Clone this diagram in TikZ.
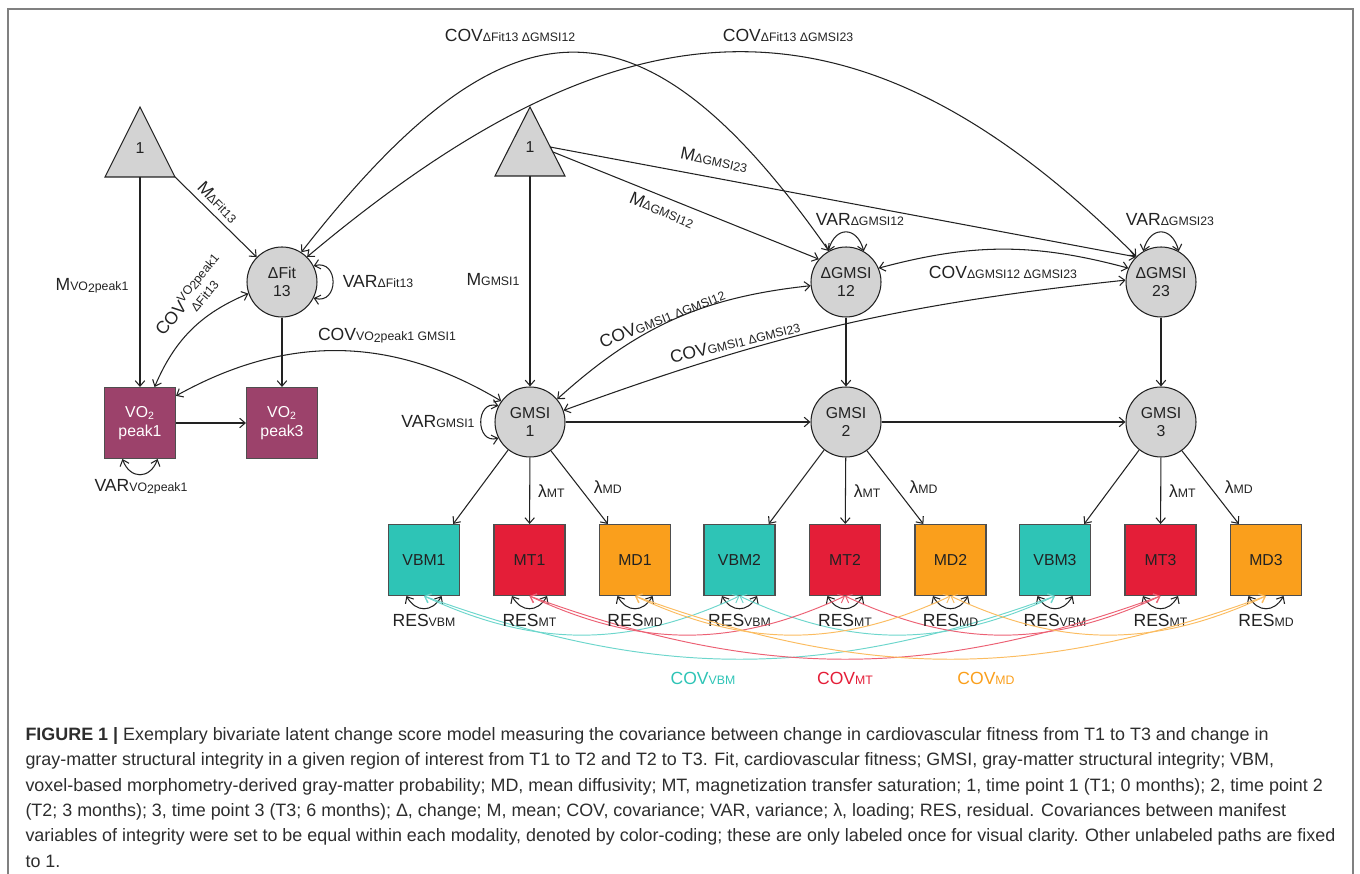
\documentclass[tikz,border=0pt]{standalone}
\usepackage{fontspec}
\setmainfont{Liberation Sans}
\usetikzlibrary{arrows.meta}

\definecolor{latgray}{RGB}{211,211,211}
\definecolor{vocol}{RGB}{156,66,107}
\definecolor{vbmcol}{RGB}{46,196,182}
\definecolor{mtcol}{RGB}{228,30,56}
\definecolor{mdcol}{RGB}{250,159,28}
\definecolor{inkcol}{RGB}{34,34,34}
\definecolor{capcol}{RGB}{45,45,45}

\newcommand{\subx}[1]{{\fontsize{7}{8}\selectfont #1}}
\newcommand{\vopk}{VO\raisebox{-0.3ex}{2}peak1}

\tikzset{
  latent/.style={circle,draw,fill=latgray,minimum size=1.4cm,inner sep=0pt,
    align=center,font=\fontsize{9}{10.5}\selectfont},
  manifest/.style={draw=inkcol!80,minimum size=1.42cm,inner sep=0pt,
    align=center,font=\fontsize{9}{10.5}\selectfont},
  lbl/.style={inner sep=0pt,font=\fontsize{10}{12}\selectfont},
  tri/.style={draw,fill=latgray,line join=miter},
  covpath/.style={<->,line width=0.55pt},
}

\begin{document}
\begin{tikzpicture}[x=0.02cm,y=0.02cm,inkcol,line width=0.6pt,
  >={Straight Barb[length=1.1mm,width=1.9mm]}]
\useasboundingbox (0,0) rectangle (1360,-874);
\draw[black!50,line width=0.8pt] (8,-874) -- (8,-9) -- (1353,-9) -- (1353,-874);

% constants
\draw[tri] (140,-107) -- (175,-177) -- (105,-177) -- cycle;
\node[font=\fontsize{9}{10.5}\selectfont] (one1) at (140,-148) {1};
\coordinate (t1b) at (140,-177);
\coordinate (t1c) at (175,-177);
\draw[tri] (530,-107) -- (565,-176) -- (495,-176) -- cycle;
\node[font=\fontsize{9}{10.5}\selectfont] (one2) at (530,-147) {1};
\coordinate (t2b) at (530,-176);
\coordinate (t2u) at (550,-147);
\coordinate (t2l) at (553,-152);

% latent variables
\node[latent] (dfit) at (282,-282) {ΔFit\\13};
\node[latent] (d12) at (846,-282) {ΔGMSI\\12};
\node[latent] (d23) at (1161,-282) {ΔGMSI\\23};
\node[latent] (g1) at (530,-422) {GMSI\\1};
\node[latent] (g2) at (846,-422) {GMSI\\2};
\node[latent] (g3) at (1161,-422) {GMSI\\3};

% manifest variables
\node[manifest,fill=vocol,text=white] (vo1) at (140,-423) {VO\textsubscript{2}\\peak1};
\node[manifest,fill=vocol,text=white] (vo3) at (282,-423) {VO\textsubscript{2}\\peak3};
\foreach \t/\xv in {1/424,2/739.5,3/1055}{
  \node[manifest,fill=vbmcol] (vbm\t) at (\xv,-560) {VBM\t};
  \node[manifest,fill=mtcol] (mt\t) at (\xv+105.5,-560) {MT\t};
  \node[manifest,fill=mdcol] (md\t) at (\xv+211,-560) {MD\t};
}

% fitness part
\draw[->] (t1b) -- (vo1);
\draw[->] (t1c) -- (dfit);
\draw[->] (dfit) -- (vo3);
\draw[->] (vo1) -- (vo3);
\node[lbl] (mvo) at (92,-286) {M\subx{\vopk}};
\node[lbl,rotate=-46] (mfit) at (218,-202) {M\subx{ΔFit13}};
\draw[<->] (dfit.27) to[out=15,in=-15,looseness=2.1] (dfit.-27);
\node[lbl] (varfit) at (378,-282) {VAR\subx{ΔFit13}};
\draw[<->] (vo1.244) to[out=-70,in=-110,looseness=1.6] (vo1.296);
\node[lbl] (varvo) at (141,-487) {VAR\subx{\vopk}};
\draw[<->] (vo1.68) to[bend left=22] (dfit.199);
\node[lbl,rotate=50] (covvofit) at (192,-298)
  {COV\subx{\raisebox{-5.5pt}{\shortstack[l]{\vopk\\\,ΔFit13}}}};
\draw[<->] (vo1.37) to[bend left=30] (g1.144);
\node[lbl] (covvog) at (387,-336) {COV\subx{\vopk{} GMSI1}};

% gray-matter part
\draw[->] (t2b) -- (g1);
\node[lbl] (mg1) at (493,-280) {M\subx{GMSI1}};
\draw[->] (t2l) -- (d12.140);
\node[lbl,rotate=-23] (md12) at (662,-210) {M\subx{ΔGMSI12}};
\draw[->] (t2u) -- (d23.135);
\node[lbl,rotate=-12] (md23) at (714,-160) {M\subx{ΔGMSI23}};
\draw[->] (d12) -- (g2);
\draw[->] (d23) -- (g3);
\draw[->] (g1) -- (g2);
\draw[->] (g2) -- (g3);
\draw[<->] (g1.153) to[out=165,in=195,looseness=1.9] (g1.207);
\node[lbl] (varg1) at (438,-422) {VAR\subx{GMSI1}};
\draw[<->] (d12.120) to[out=75,in=105,looseness=1.9] (d12.60);
\node[lbl] (vard12) at (860,-220) {VAR\subx{ΔGMSI12}};
\draw[<->] (d23.120) to[out=75,in=105,looseness=1.9] (d23.60);
\node[lbl] (vard23) at (1170,-220) {VAR\subx{ΔGMSI23}};

% covariances between latents
\draw[<->] (dfit.57) to[out=52,in=125,looseness=1.6] (d12.119);
\node[lbl] (covf12) at (510,-35) {COV\subx{ΔFit13 ΔGMSI12}};
\draw[<->] (dfit.45) to[out=40,in=135,looseness=1.25] (d23.134);
\node[lbl] (covf23) at (788,-35) {COV\subx{ΔFit13 ΔGMSI23}};
\draw[<->] (d12.23) to[bend left=15] (d23.157);
\node[lbl] (cov1223) at (1003,-272) {COV\subx{ΔGMSI12 ΔGMSI23}};
\draw[<->] (g1.40) to[bend left=18] (d12.186);
\node[lbl,rotate=21.5] (covg12) at (662,-318) {COV\subx{GMSI1 ΔGMSI12}};
\draw[<->] (g1.19) to[bend left=7] (d23.177);
\node[lbl,rotate=14] (covg23) at (735,-342) {COV\subx{GMSI1 ΔGMSI23}};

% loadings
\foreach \t in {1,2,3}{
  \draw[->] (g\t.232) -- (vbm\t.51);
  \draw[->] (g\t) -- (mt\t) node[lbl,midway,right=4.5pt] (lmt\t) {λ\subx{MT}};
  \draw[->] (g\t.306) -- (md\t.127) node[lbl,midway,right=8pt] (lmd\t) {λ\subx{MD}};
}

% residuals and residual covariances
\foreach \m/\s/\c in {vbm/VBM/vbmcol,mt/MT/mtcol,md/MD/mdcol}{
  \foreach \t in {1,2,3}{
    \draw[<->] (\m\t.244) to[out=-60,in=-120,looseness=1.4] (\m\t.296);
    \path (\m\t.south) ++(0,-24.5) node[lbl] (res\m\t) {RES\subx{\s}};
  }
  \draw[covpath,\c!70] (\m1.south) to[out=-25,in=-155] (\m2.south);
  \draw[covpath,\c!70] (\m2.south) to[out=-25,in=-155] (\m3.south);
  \draw[covpath,\c!70] (\m1.south) to[out=-20,in=-160] (\m3.south);
}
\node[lbl,text=vbmcol] (covvbm) at (703,-678) {COV\subx{VBM}};
\node[lbl,text=mtcol] (covmt) at (845,-678) {COV\subx{MT}};
\node[lbl,text=mdcol] (covmd) at (986,-678) {COV\subx{MD}};

% caption
\node[anchor=north west,inner sep=0pt,align=left,text=capcol,
  font=\fontsize{10.2}{14.4}\selectfont] (caption) at (25,-727) {%
\textbf{FIGURE 1 |} Exemplary bivariate latent change score model measuring the covariance between change in cardiovascular fitness from T1 to T3 and change in\\
gray-matter structural integrity in a given region of interest from T1 to T2 and T2 to T3. Fit, cardiovascular fitness; GMSI, gray-matter structural integrity; VBM,\\
voxel-based morphometry-derived gray-matter probability; MD, mean diffusivity; MT, magnetization transfer saturation; 1, time point 1 (T1; 0 months); 2, time point 2\\
(T2; 3 months); 3, time point 3 (T3; 6 months); Δ, change; M, mean; COV, covariance; VAR, variance; λ, loading; RES, residual. Covariances between manifest\\
variables of integrity were set to be equal within each modality, denoted by color-coding; these are only labeled once for visual clarity. Other unlabeled paths are fixed\\
to 1.};
\end{tikzpicture}
\end{document}
